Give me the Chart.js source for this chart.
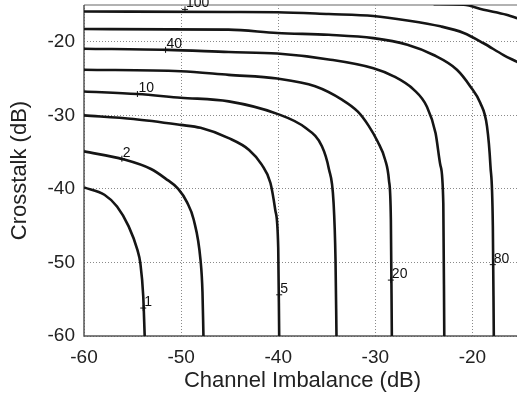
<!DOCTYPE html>
<html lang="en">
  <head>
    <meta charset="UTF-8" />
    <title>Crosstalk vs Channel Imbalance</title>
    <script src="https://cdn.jsdelivr.net/npm/chart.js"></script>
    <style>
      html, body { margin: 0; padding: 0; background: #fff; overflow: hidden; }
      canvas { display: block; }
    </style>
  </head>
  <body>
    <canvas id="myChart" width="522" height="400"></canvas>

    <script>
      "use strict";
      // contour lines: [channel imbalance dB, crosstalk dB]
      const level1 = [[-60, -39.8], [-57.9, -40.8], [-56.6, -42.4], [-55.4, -45.1], [-54.5, -48.3], [-54.2, -50.1], [-53.9, -54.6], [-53.75, -60]];
      const level2 = [[-60, -34.9], [-55.9, -36.0], [-53.1, -37.3], [-51.6, -38.6], [-50.3, -40.0], [-49.4, -41.8], [-48.7, -44.2], [-48.0, -49.7], [-47.8, -54], [-47.7, -60]];
      const level5 = [[-60, -30.0], [-54.9, -30.5], [-50.05, -31.3], [-48.0, -31.7], [-45.1, -33.1], [-43.0, -34.7], [-41.7, -36.7], [-40.8, -39.2], [-40.3, -42.9], [-40.0, -48], [-39.9, -60]];
      const level10 = [[-60, -26.75], [-54.5, -27.1], [-50.05, -27.6], [-45.1, -28.1], [-40.1, -29.8], [-37.2, -31.7], [-35.5, -34.2], [-34.8, -37.2], [-34.3, -41.9], [-34.1, -49.7], [-34.0, -60]];
      const level20 = [[-60, -23.8], [-50.05, -24.0], [-45.1, -24.5], [-40.1, -25.0], [-36.2, -26.05], [-33.4, -27.9], [-31.8, -29.5], [-30.7, -31.4], [-29.75, -33.6], [-29.0, -36.0], [-28.6, -38.8], [-28.4, -44.2], [-28.3, -60]];
      const level40 = [[-60, -20.95], [-51.4, -21.1], [-45.1, -21.4], [-40.1, -21.6], [-34.8, -22.4], [-30.2, -23.6], [-28.1, -24.7], [-26.05, -26.5], [-24.7, -28.8], [-23.8, -32.4], [-23.3, -36.8], [-23.0, -42], [-22.9, -60]];
      const level80 = [[-60, -18.27], [-45.1, -18.35], [-40.1, -18.8], [-34.8, -19.05], [-30.2, -19.5], [-26.7, -20.4], [-24.0, -21.8], [-21.6, -23.8], [-20.2, -26.1], [-19.2, -28.3], [-18.5, -31.5], [-18.15, -36.8], [-17.9, -45], [-17.8, -60]];
      const level100 = [[-60, -15.88], [-45.1, -15.95], [-40.1, -15.98], [-34.8, -16.23], [-30.2, -16.5], [-26.7, -17.1], [-23.3, -17.9], [-20.9, -18.8], [-18.85, -20.2], [-16.8, -21.8], [-15.45, -22.7], [-15, -23.0]];
      const levelTop = [[-24, -14.9], [-20.9, -14.97], [-18.85, -15.65], [-16.5, -16.33], [-15.45, -16.78], [-15, -17.0]];

      const contours = [level1, level2, level5, level10, level20, level40, level80, level100, levelTop];

      // contour labels (MATLAB clabel style: "+" on the line, text beside it)
      const labelText = ["1", "2", "5", "10", "20", "40", "80", "100"];
      const labelX = [-53.9, -56.1, -39.9, -54.5, -28.4, -51.6, -17.9, -49.6];
      const labelY = [-56.2, -35.9, -54.4, -27.1, -52.4, -21.1, -50.3, -15.6];

      const xTicks = [-60, -50, -40, -30, -20];
      const yTicks = [-60, -50, -40, -30, -20];

      const FONT = "'Liberation Sans', Arial, Helvetica, sans-serif";

      const boxPlugin = {
        id: "box",
        beforeDatasetsDraw(chart) {
          const { ctx, chartArea: a } = chart;
          ctx.save();
          ctx.lineWidth = 1.5;
          ctx.strokeStyle = "#999";
          ctx.beginPath();
          ctx.moveTo(a.left, a.top);
          ctx.lineTo(a.right, a.top);
          ctx.lineTo(a.right, a.bottom);
          ctx.stroke();
          ctx.strokeStyle = "#555";
          ctx.beginPath();
          ctx.moveTo(a.left, a.top);
          ctx.lineTo(a.left, a.bottom);
          ctx.lineTo(a.right, a.bottom);
          ctx.stroke();
          ctx.restore();
        },
      };

      const labelPlugin = {
        id: "contourLabels",
        afterDatasetsDraw(chart) {
          const { ctx } = chart;
          const xs = chart.scales.x;
          const ys = chart.scales.y;
          ctx.save();
          ctx.fillStyle = "#111";
          ctx.strokeStyle = "#111";
          ctx.lineWidth = 1;
          ctx.font = "14px " + FONT;
          ctx.textAlign = "left";
          ctx.textBaseline = "alphabetic";
          labelText.forEach((t, i) => {
            const px = xs.getPixelForValue(labelX[i]);
            const py = ys.getPixelForValue(labelY[i]);
            ctx.beginPath();
            ctx.moveTo(px - 3, py);
            ctx.lineTo(px + 3, py);
            ctx.moveTo(px, py - 3);
            ctx.lineTo(px, py + 3);
            ctx.stroke();
            ctx.fillText(t, px + 1, py - 2);
          });
          ctx.restore();
        },
      };

      const ctx = document.getElementById("myChart").getContext("2d");

      new Chart(ctx, {
        type: "scatter",
        data: {
          datasets: contours.map((c) => ({
            data: c.map(([x, y]) => ({ x, y })),
            showLine: true,
            borderColor: "#151515",
            borderWidth: 2.6,
            pointRadius: 0,
            cubicInterpolationMode: "monotone",
          })),
        },
        options: {
          responsive: false,
          animation: false,
          events: [],
          layout: { padding: { top: 5, right: 1, left: 0, bottom: 0 } },
          scales: {
            x: {
              type: "linear",
              min: -60,
              max: -15,
              afterFit: (s) => {
                s.height = 64;
                s.paddingLeft = 0;
                s.paddingRight = 0;
              },
              afterBuildTicks: (s) => { s.ticks = xTicks.map((v) => ({ value: v })); },
              ticks: {
                color: "#222",
                padding: 10,
                font: { family: FONT, size: 19 },
              },
              grid: { color: "#8a8a8a", lineWidth: 1, drawTicks: false },
              border: { display: false, dash: [1, 2] },
              title: {
                display: true,
                text: "Channel Imbalance (dB)",
                color: "#222",
                font: { family: FONT, size: 22 },
                padding: { top: 0, bottom: 6 },
              },
            },
            y: {
              type: "linear",
              min: -60,
              max: -15,
              afterFit: (s) => {
                s.width = 84;
                s.paddingTop = 0;
                s.paddingBottom = 0;
              },
              afterBuildTicks: (s) => { s.ticks = yTicks.map((v) => ({ value: v })); },
              ticks: {
                color: "#222",
                padding: 9,
                font: { family: FONT, size: 19 },
              },
              grid: { color: "#8a8a8a", lineWidth: 1, drawTicks: false },
              border: { display: false, dash: [1, 2] },
              title: {
                display: true,
                text: "Crosstalk (dB)",
                color: "#222",
                font: { family: FONT, size: 22 },
                padding: { top: 7, bottom: 0 },
              },
            },
          },
          plugins: {
            legend: { display: false },
            tooltip: { enabled: false },
          },
        },
        plugins: [boxPlugin, labelPlugin],
      });
    </script>
  </body>
</html>
